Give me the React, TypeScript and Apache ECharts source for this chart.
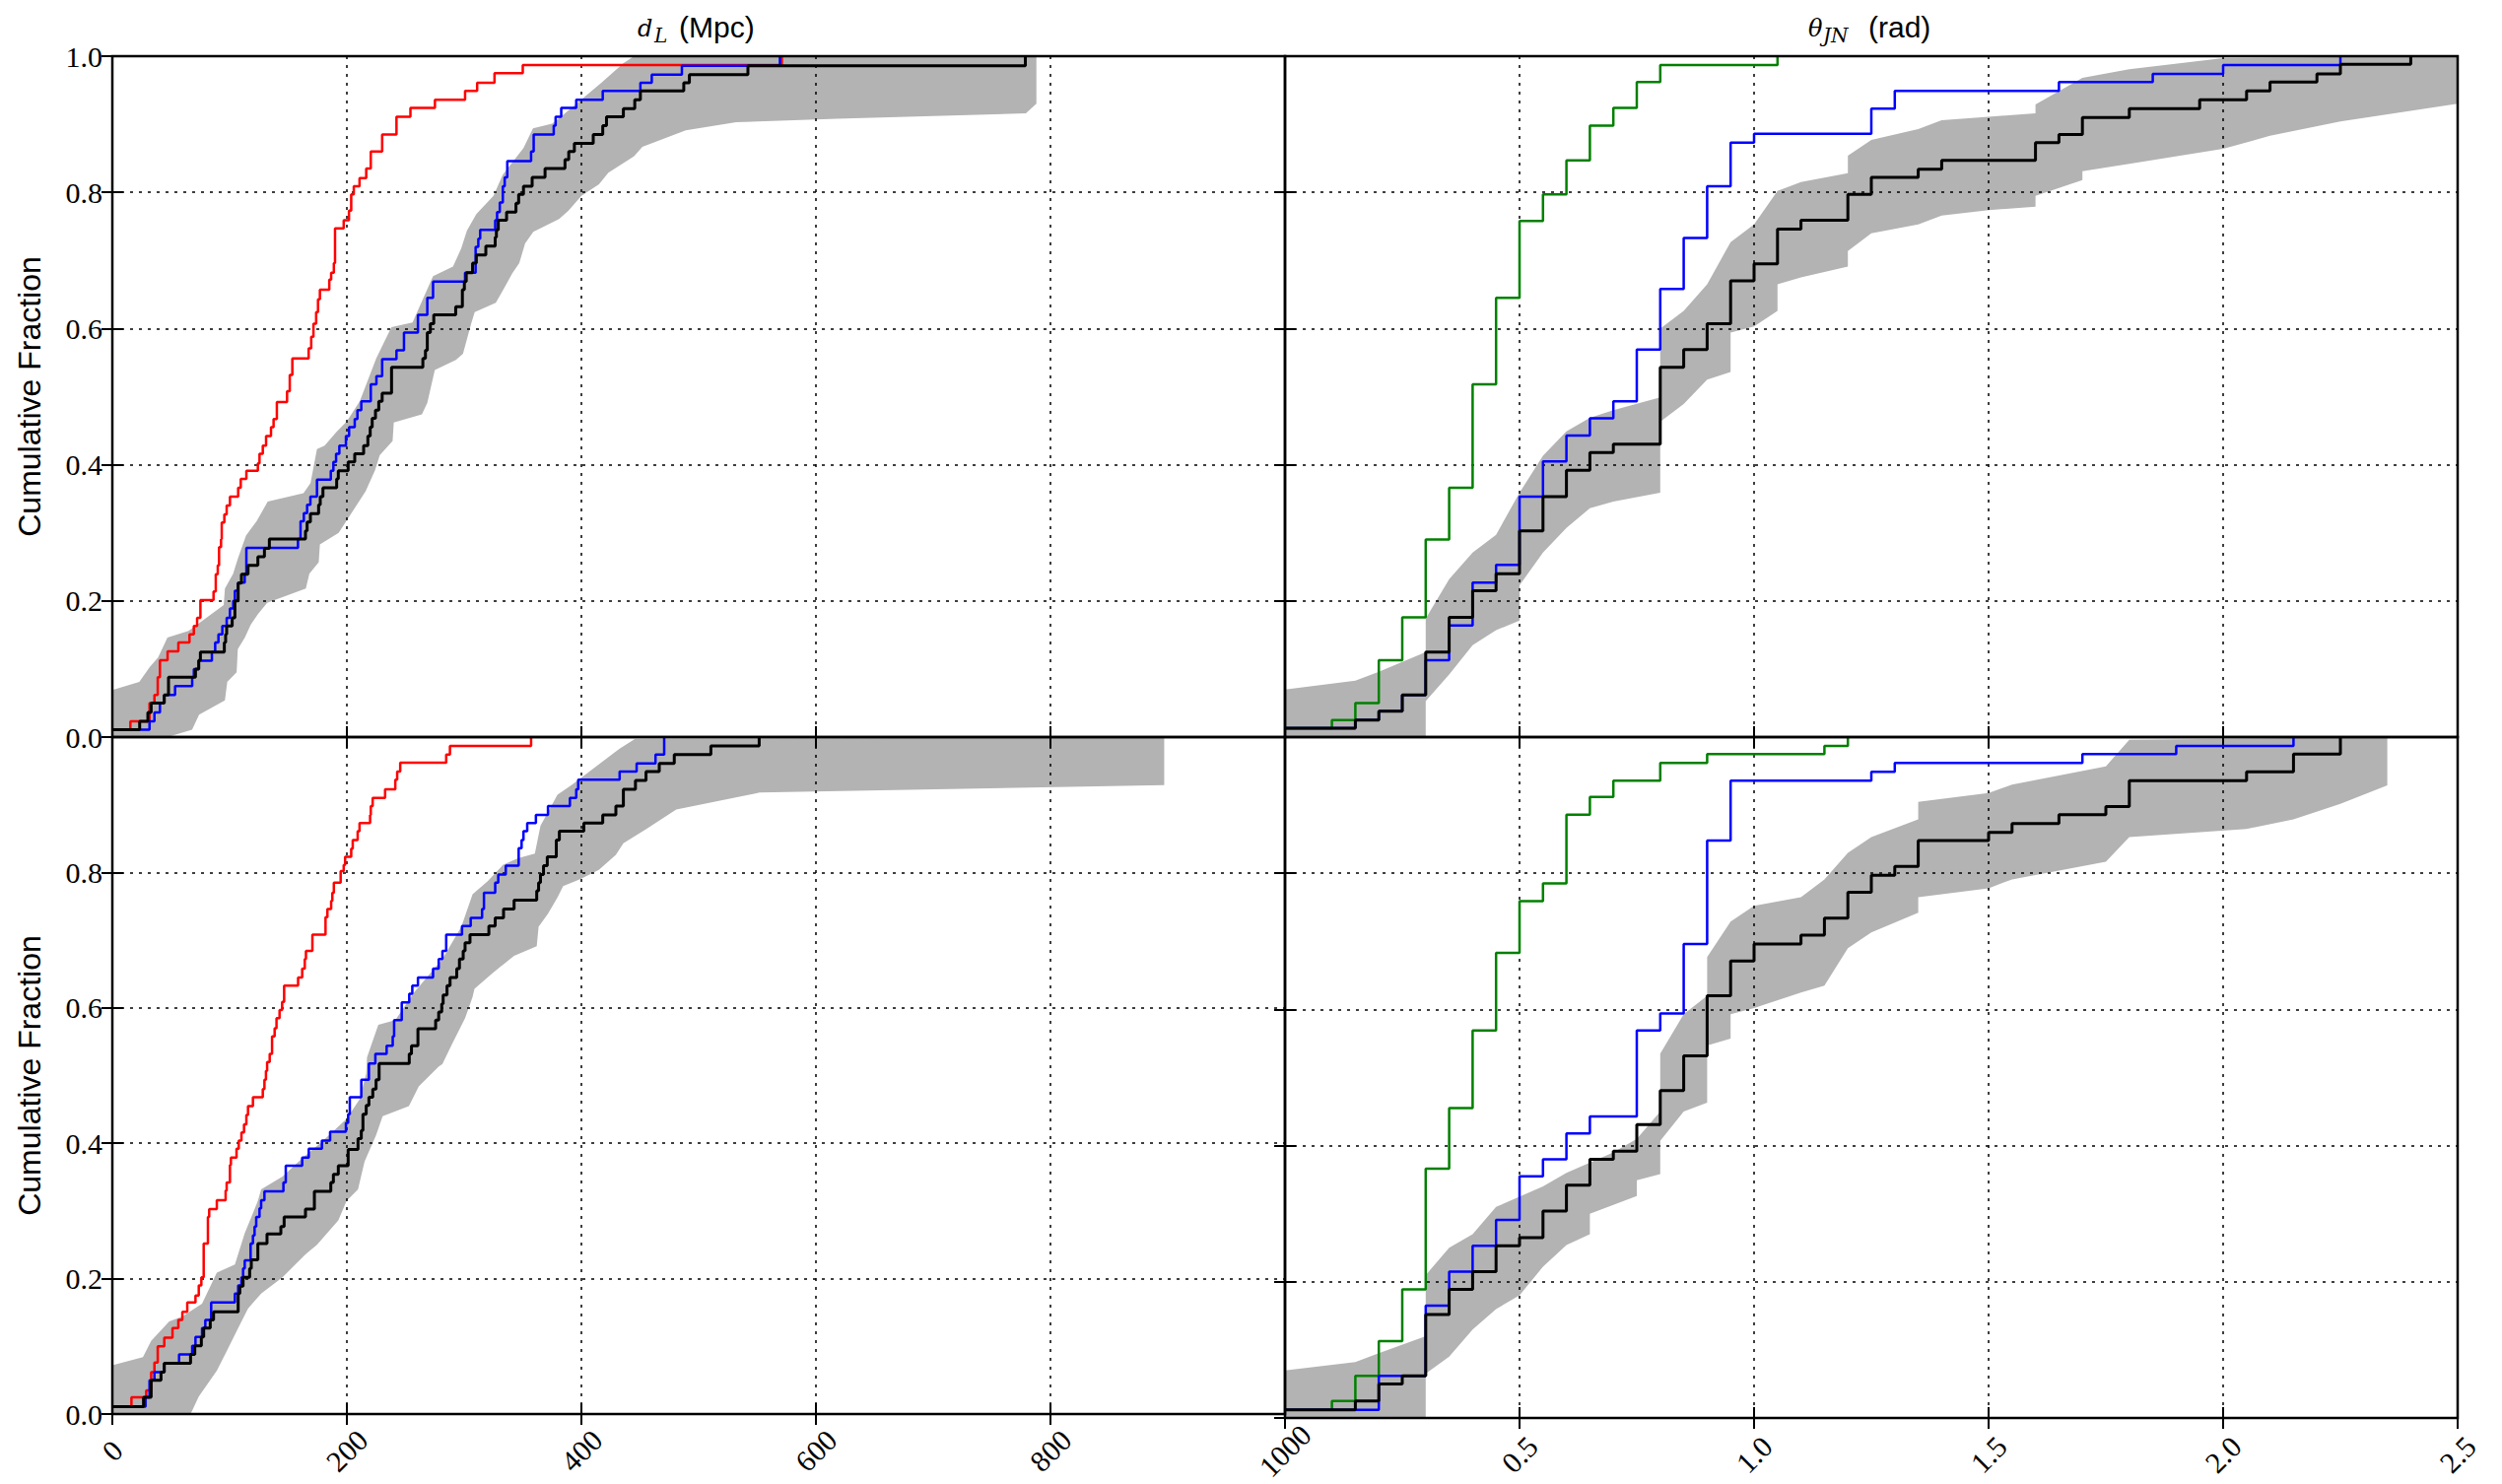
import React, { useEffect, useRef } from 'react';
import * as echarts from 'echarts';

type P = [number, number];

// ---------- Top-left: d_L (Mpc) ----------
const tlRed: P[] = [[0,0.011],[15.4,0.023],[31.7,0.05],[35.9,0.062],[38.7,0.088],[40.6,0.113],[47.1,0.126],[56.3,0.139],[65.8,0.151],[69.5,0.163],[72.3,0.175],[75.1,0.201],[86.3,0.214],[88.2,0.239],[89.9,0.252],[91.0,0.279],[92.7,0.291],[93.3,0.315],[95.5,0.327],[97.5,0.34],[100.3,0.353],[107.3,0.366],[109.5,0.379],[114.3,0.391],[124.1,0.402],[125.5,0.416],[128.3,0.428],[131.1,0.442],[135.3,0.455],[137.5,0.467],[140.3,0.492],[149.0,0.508],[151.3,0.532],[153.5,0.556],[167.4,0.571],[169.6,0.588],[171.5,0.607],[173.8,0.624],[175.4,0.643],[177.0,0.657],[185.0,0.672],[186.6,0.682],[188.9,0.696],[189.9,0.747],[197.3,0.759],[201.8,0.773],[203.7,0.797],[205.9,0.809],[210.8,0.821],[216.5,0.835],[220.4,0.86],[230.1,0.885],[242.3,0.911],[254.2,0.924],[275.1,0.936],[300.8,0.949],[311.1,0.961],[325.9,0.975],[350.0,0.987],[570.9,1.0]];
const tlBlue: P[] = [[0,0.011],[31.7,0.023],[35.9,0.036],[40.6,0.05],[44.3,0.062],[53.5,0.075],[68.1,0.088],[69.5,0.1],[73.7,0.112],[84.9,0.125],[87.7,0.139],[90.5,0.151],[93.8,0.163],[97.5,0.175],[100.3,0.189],[103.1,0.2],[104.5,0.215],[107.3,0.227],[112.9,0.24],[114.3,0.278],[158.3,0.291],[160.5,0.317],[163.3,0.329],[166.1,0.341],[168.9,0.353],[174.5,0.378],[186.3,0.391],[188.5,0.404],[190.8,0.416],[193.6,0.428],[199.2,0.442],[201.9,0.455],[206.7,0.467],[209.0,0.48],[212.3,0.493],[220.4,0.518],[225.2,0.53],[230.1,0.555],[242.3,0.568],[248.7,0.594],[260.6,0.62],[268.6,0.645],[273.5,0.669],[300.8,0.682],[309.8,0.72],[312.1,0.732],[313.7,0.745],[326.5,0.759],[328.1,0.771],[330.4,0.785],[333.0,0.809],[334.6,0.822],[336.8,0.846],[357.1,0.86],[359.3,0.885],[376.4,0.898],[378.0,0.911],[382.8,0.924],[395.6,0.936],[418.2,0.949],[450.3,0.961],[460.0,0.973],[485.7,0.986],[569.3,1.0]];
const tlBlack: P[] = [[0,0.011],[23.3,0.023],[30.3,0.036],[33.1,0.05],[44.3,0.062],[47.9,0.088],[70.9,0.1],[73.7,0.113],[75.1,0.125],[95.5,0.139],[96.6,0.151],[97.5,0.163],[102.2,0.175],[104.5,0.2],[107.3,0.226],[110.1,0.239],[115.7,0.252],[124.1,0.265],[129.7,0.277],[133.9,0.291],[164.7,0.303],[166.1,0.316],[168.9,0.328],[175.9,0.341],[177.3,0.353],[179.6,0.366],[191.3,0.379],[192.7,0.391],[201.1,0.404],[206.7,0.416],[214.3,0.428],[217.9,0.442],[219.9,0.455],[221.6,0.468],[224.4,0.48],[227.2,0.493],[230.1,0.505],[238.1,0.543],[264.8,0.556],[267.0,0.568],[268.6,0.594],[271.2,0.607],[274.1,0.62],[292.8,0.632],[298.5,0.657],[300.2,0.669],[301.8,0.682],[307.2,0.696],[310.4,0.708],[318.5,0.721],[326.5,0.734],[327.5,0.745],[329.1,0.759],[336.2,0.771],[344.2,0.784],[346.5,0.797],[350.6,0.809],[358.0,0.822],[369.0,0.835],[386.0,0.848],[389.2,0.86],[394.0,0.872],[410.1,0.885],[418.2,0.898],[421.4,0.911],[435.8,0.923],[445.5,0.936],[450.3,0.949],[487.3,0.961],[492.1,0.973],[542.0,0.986],[778.6,1.0]];
const tlBandUpper: P[] = [[0,0.069],[23,0.081],[32,0.103],[39,0.117],[47,0.146],[65,0.156],[95,0.194],[96,0.218],[103,0.24],[107,0.262],[114,0.296],[123,0.317],[132.5,0.346],[163,0.358],[169,0.373],[174.5,0.423],[181,0.428],[191,0.448],[200,0.464],[211,0.493],[225,0.556],[238,0.602],[256,0.609],[273.5,0.677],[290.5,0.691],[297.6,0.718],[302.4,0.744],[310.4,0.768],[325,0.795],[333,0.826],[350.6,0.865],[358.7,0.894],[375,0.901],[384,0.913],[417,0.961],[436,0.99],[445,1.0],[788,1.0]];
const tlBandLower: P[] = [[0,0],[47,0],[68,0.011],[74,0.033],[96,0.054],[98,0.081],[106,0.095],[107,0.129],[113,0.146],[118,0.165],[124,0.18],[132,0.197],[165,0.218],[168,0.24],[176,0.257],[177,0.283],[193,0.3],[216,0.361],[224,0.392],[228,0.414],[239,0.435],[240,0.462],[264,0.474],[268.6,0.491],[275,0.539],[293,0.554],[299,0.563],[306,0.607],[309,0.624],[327,0.638],[335,0.662],[341,0.681],[347,0.696],[352,0.725],[359,0.742],[381,0.761],[389,0.773],[400,0.795],[415,0.812],[423,0.829],[445,0.853],[452,0.867],[489,0.891],[532,0.903],[618,0.908],[779,0.916],[788,0.93]];

// ---------- Top-right: theta_JN (rad) ----------
const trGreen: P[] = [[0,0.013],[0.1,0.025],[0.15,0.05],[0.2,0.113],[0.25,0.176],[0.3,0.29],[0.35,0.366],[0.4,0.518],[0.45,0.645],[0.5,0.758],[0.55,0.797],[0.6,0.847],[0.65,0.898],[0.7,0.924],[0.75,0.962],[0.8,0.987],[1.05,1.0]];
const trBlue: P[] = [[0,0.013],[0.15,0.025],[0.2,0.038],[0.25,0.062],[0.3,0.113],[0.35,0.164],[0.4,0.227],[0.45,0.253],[0.5,0.353],[0.55,0.405],[0.6,0.443],[0.65,0.468],[0.7,0.493],[0.75,0.569],[0.8,0.658],[0.85,0.733],[0.9,0.809],[0.95,0.873],[1.0,0.886],[1.25,0.923],[1.3,0.949],[1.65,0.962],[1.85,0.974],[2.0,0.987],[2.25,1.0]];
const trBlack: P[] = [[0,0.013],[0.15,0.025],[0.2,0.038],[0.25,0.062],[0.3,0.125],[0.35,0.176],[0.4,0.215],[0.45,0.24],[0.5,0.303],[0.55,0.353],[0.6,0.392],[0.65,0.418],[0.7,0.43],[0.8,0.543],[0.85,0.569],[0.9,0.607],[0.95,0.67],[1.0,0.695],[1.05,0.746],[1.1,0.759],[1.2,0.797],[1.25,0.822],[1.35,0.834],[1.4,0.847],[1.6,0.873],[1.65,0.885],[1.7,0.91],[1.8,0.923],[1.95,0.936],[2.05,0.949],[2.1,0.962],[2.2,0.974],[2.25,0.988],[2.4,1.0]];
const trBandUpper: P[] = [[0,0.07],[0.15,0.083],[0.2,0.096],[0.3,0.125],[0.3,0.174],[0.35,0.232],[0.4,0.271],[0.45,0.297],[0.5,0.359],[0.55,0.413],[0.6,0.449],[0.65,0.469],[0.7,0.48],[0.8,0.499],[0.8,0.6],[0.85,0.626],[0.9,0.665],[0.95,0.727],[1.0,0.753],[1.05,0.802],[1.1,0.815],[1.2,0.828],[1.2,0.854],[1.25,0.877],[1.35,0.893],[1.4,0.906],[1.5,0.911],[1.6,0.916],[1.6,0.929],[1.7,0.968],[1.8,0.981],[2.0,0.997],[2.5,1.0]];
const trBandLower: P[] = [[0,0],[0.3,0],[0.3,0.053],[0.35,0.092],[0.4,0.135],[0.45,0.157],[0.5,0.171],[0.5,0.223],[0.55,0.271],[0.6,0.307],[0.65,0.336],[0.7,0.346],[0.8,0.359],[0.8,0.463],[0.85,0.489],[0.9,0.525],[0.95,0.536],[0.95,0.594],[1.0,0.603],[1.05,0.626],[1.05,0.665],[1.1,0.675],[1.2,0.691],[1.2,0.714],[1.25,0.74],[1.35,0.753],[1.4,0.766],[1.5,0.774],[1.6,0.779],[1.6,0.795],[1.7,0.818],[1.7,0.831],[1.8,0.842],[2.0,0.864],[2.1,0.883],[2.25,0.904],[2.5,0.93]];

// ---------- Bottom-left: d_L (Mpc) ----------
const blRed: P[] = [[0,0.011],[16.3,0.025],[28.9,0.035],[33.1,0.062],[35.9,0.076],[38.7,0.1],[44.3,0.113],[51.3,0.127],[56.3,0.139],[59.7,0.151],[63.9,0.165],[70.9,0.175],[73.7,0.19],[75.9,0.202],[77.9,0.252],[81.5,0.291],[82.6,0.303],[89.1,0.316],[96.6,0.33],[97.5,0.342],[100.3,0.368],[101.1,0.379],[105.9,0.392],[107.8,0.404],[110.1,0.416],[112.3,0.428],[114.3,0.442],[115.7,0.455],[119.9,0.468],[128.3,0.48],[129.7,0.494],[131,0.507],[132,0.52],[134.2,0.532],[136.2,0.558],[138.4,0.57],[140,0.585],[142.6,0.597],[144.8,0.609],[146.5,0.633],[158.4,0.645],[161.9,0.658],[164.1,0.672],[165.1,0.684],[170.6,0.708],[181.8,0.734],[183.4,0.746],[186.6,0.758],[187.6,0.77],[188.9,0.785],[194.7,0.802],[197.3,0.811],[198.5,0.823],[203.7,0.835],[205,0.848],[209.2,0.861],[210.8,0.873],[219.8,0.885],[220.4,0.898],[222,0.91],[232.6,0.923],[241.3,0.937],[242.9,0.949],[245.5,0.962],[284.7,0.974],[287.9,0.987],[357.1,1.0]];
const blBlue: P[] = [[0,0.011],[28.3,0.025],[31.7,0.05],[35.9,0.062],[44.3,0.075],[56.9,0.088],[68.1,0.101],[70.9,0.114],[76.5,0.127],[79.3,0.139],[84.3,0.165],[104.5,0.178],[107.3,0.19],[110.1,0.202],[111.5,0.215],[112.9,0.227],[117.9,0.252],[119.9,0.264],[121.3,0.277],[122.7,0.291],[125.5,0.304],[126.9,0.316],[129.7,0.329],[145.9,0.342],[147.9,0.367],[161.9,0.379],[167.5,0.392],[178.7,0.404],[185.7,0.417],[199.2,0.43],[201.1,0.443],[202.5,0.468],[212.3,0.494],[218.8,0.518],[224.3,0.532],[233.9,0.544],[239.1,0.558],[240.3,0.582],[246.8,0.608],[253.2,0.621],[255.8,0.633],[260.6,0.645],[273.5,0.658],[278.3,0.672],[281.5,0.684],[284.7,0.708],[298.2,0.721],[305.6,0.733],[315.3,0.746],[316.9,0.77],[326.5,0.785],[329.1,0.797],[335.5,0.81],[346.5,0.836],[349,0.848],[350.6,0.861],[353.8,0.873],[361.2,0.885],[371.5,0.898],[390.2,0.91],[395.6,0.923],[397.3,0.937],[432.6,0.949],[447.1,0.961],[463.2,0.974],[470.6,1.0]];
const blBlack: P[] = [[0,0.011],[26.6,0.025],[33.1,0.05],[41.5,0.062],[44.3,0.075],[66.7,0.088],[70.3,0.101],[75.9,0.114],[77.9,0.127],[83.5,0.139],[86.3,0.151],[107.3,0.178],[108.7,0.189],[111.5,0.202],[117.1,0.215],[118.5,0.228],[124.1,0.252],[131.9,0.266],[143.7,0.277],[146.5,0.291],[164.7,0.303],[172.3,0.329],[186.3,0.342],[188.5,0.354],[192.7,0.367],[201.1,0.391],[209.5,0.407],[212.3,0.419],[213.7,0.443],[216.5,0.456],[218.8,0.468],[222.1,0.48],[224.9,0.494],[227.5,0.518],[253.2,0.532],[255.1,0.544],[260.6,0.569],[275.7,0.582],[278.3,0.594],[280.9,0.606],[282.1,0.619],[285.4,0.633],[288,0.645],[293.7,0.658],[296,0.672],[299.2,0.684],[300.8,0.696],[305,0.708],[321.1,0.721],[326.5,0.733],[333.6,0.746],[342.6,0.759],[361.9,0.773],[363.5,0.785],[365.1,0.797],[367.7,0.81],[370.9,0.823],[378.6,0.848],[381.2,0.861],[402.1,0.873],[418.2,0.885],[429.4,0.898],[435.8,0.923],[446.1,0.936],[455.1,0.949],[466.4,0.961],[479.2,0.974],[510.4,0.987],[551.6,1.0]];
const blBandUpper: P[] = [[0,0.072],[26.1,0.084],[33.1,0.108],[48.5,0.137],[59.7,0.144],[76.5,0.163],[89.1,0.209],[104.5,0.221],[112.9,0.267],[124.1,0.315],[126.9,0.332],[145.1,0.351],[163.3,0.38],[178.7,0.402],[199.7,0.436],[210.9,0.465],[216.5,0.503],[217.2,0.527],[226.8,0.575],[241.3,0.582],[257.4,0.623],[281.5,0.672],[297.6,0.72],[307.2,0.768],[320.1,0.787],[333,0.811],[345.8,0.821],[360.3,0.828],[365.1,0.869],[379.6,0.915],[392.4,0.93],[432.6,0.983],[445.5,0.997],[897,1.0]];
const blBandLower: P[] = [[0,0],[66.7,0],[73.7,0.026],[89.1,0.064],[97.5,0.093],[107.3,0.127],[115.7,0.156],[126.9,0.178],[145.1,0.202],[164.7,0.236],[174.5,0.25],[192.7,0.286],[199.7,0.315],[209.5,0.332],[215.1,0.373],[224.9,0.412],[230.5,0.44],[252.9,0.455],[261.3,0.484],[278.2,0.513],[281.5,0.517],[289.5,0.546],[300.8,0.585],[307.2,0.616],[308.8,0.628],[323.3,0.65],[342.6,0.677],[361.9,0.691],[363.5,0.72],[371.5,0.739],[379.6,0.763],[384.4,0.78],[398.9,0.79],[414.9,0.804],[429.4,0.826],[435.8,0.843],[455.1,0.864],[480.9,0.893],[552,0.918],[897,0.929]];

// ---------- Bottom-right: theta_JN (rad) ----------
const brGreen: P[] = [[0,0.012],[0.1,0.025],[0.15,0.062],[0.2,0.113],[0.25,0.189],[0.3,0.366],[0.35,0.455],[0.4,0.569],[0.45,0.683],[0.5,0.759],[0.55,0.785],[0.6,0.886],[0.65,0.912],[0.7,0.936],[0.8,0.962],[0.9,0.975],[1.15,0.987],[1.2,1.0]];
const brBlue: P[] = [[0,0.012],[0.2,0.062],[0.3,0.165],[0.35,0.215],[0.4,0.253],[0.45,0.291],[0.5,0.355],[0.55,0.38],[0.6,0.418],[0.65,0.443],[0.75,0.569],[0.8,0.594],[0.85,0.696],[0.9,0.848],[0.95,0.936],[1.25,0.949],[1.3,0.962],[1.7,0.975],[1.9,0.987],[2.15,1.0]];
const brBlack: P[] = [[0,0.012],[0.15,0.025],[0.2,0.05],[0.25,0.062],[0.3,0.152],[0.35,0.189],[0.4,0.215],[0.45,0.253],[0.5,0.265],[0.55,0.304],[0.6,0.342],[0.65,0.38],[0.7,0.392],[0.75,0.431],[0.8,0.481],[0.85,0.532],[0.9,0.62],[0.95,0.671],[1.0,0.696],[1.1,0.709],[1.15,0.734],[1.2,0.772],[1.25,0.797],[1.3,0.81],[1.35,0.848],[1.5,0.86],[1.55,0.873],[1.65,0.886],[1.75,0.898],[1.8,0.936],[2.05,0.949],[2.15,0.975],[2.25,1.0]];
const brBandUpper: P[] = [[0,0.07],[0.15,0.082],[0.2,0.095],[0.3,0.12],[0.3,0.21],[0.35,0.25],[0.4,0.27],[0.45,0.31],[0.55,0.34],[0.6,0.36],[0.7,0.39],[0.75,0.41],[0.8,0.45],[0.8,0.535],[0.85,0.593],[0.9,0.62],[0.9,0.677],[0.95,0.729],[1.0,0.752],[1.1,0.765],[1.15,0.791],[1.2,0.83],[1.25,0.853],[1.35,0.879],[1.35,0.905],[1.5,0.918],[1.55,0.93],[1.75,0.957],[1.8,0.996],[2.35,1.0]];
const brBandLower: P[] = [[0,0],[0.3,0],[0.3,0.065],[0.35,0.09],[0.4,0.13],[0.45,0.16],[0.5,0.18],[0.55,0.222],[0.6,0.254],[0.65,0.27],[0.65,0.3],[0.75,0.326],[0.75,0.349],[0.8,0.358],[0.8,0.407],[0.85,0.45],[0.9,0.463],[0.9,0.547],[0.95,0.557],[0.95,0.593],[1.0,0.602],[1.1,0.625],[1.15,0.635],[1.2,0.69],[1.25,0.713],[1.35,0.742],[1.35,0.765],[1.5,0.778],[1.55,0.791],[1.75,0.817],[1.8,0.853],[2.05,0.865],[2.15,0.879],[2.25,0.902],[2.35,0.929]];

// ---------- Axes / labels ----------
const leftXTicks = { min: 0, max: 1000, interval: 200 };
const rightXTicks = { min: 0, max: 2.5, interval: 0.5 };
const yTicks = { min: 0, max: 1, interval: 0.2 };
const yAxisTitle = 'Cumulative Fraction';
const leftTitleParts = ['d', 'L', '(Mpc)'];
const rightTitleParts = ['θ', 'JN', '(rad)'];

const W = 2539, H = 1506;
const GRID_POS = [
  { left: 114, top: 57 },
  { left: 1304, top: 57 },
  { left: 114, top: 748 },
  { left: 1304, top: 748 },
];
const GW = 1190, GH = 691;
const SERIF = 'Liberation Serif';
const MATH = 'DejaVu Serif';
const SANS = 'Liberation Sans';

const panels = [
  { colored: tlRed, coloredColor: '#ff0000', blue: tlBlue, black: tlBlack, up: tlBandUpper, lo: tlBandLower },
  { colored: trGreen, coloredColor: '#008000', blue: trBlue, black: trBlack, up: trBandUpper, lo: trBandLower },
  { colored: blRed, coloredColor: '#ff0000', blue: blBlue, black: blBlack, up: blBandUpper, lo: blBandLower },
  { colored: brGreen, coloredColor: '#008000', blue: brBlue, black: brBlack, up: brBandUpper, lo: brBandLower },
];

function titleTexts(parts: string[], xMain: number, xSub: number, xRest: number) {
  return [
    { type: 'text', x: xMain, y: 29, style: { text: parts[0], fontFamily: MATH, fontStyle: 'italic', fontSize: 24, fill: '#000', align: 'left', verticalAlign: 'middle' } },
    { type: 'text', x: xSub, y: 36, style: { text: parts[1], fontFamily: MATH, fontStyle: 'italic', fontSize: 20, fill: '#000', align: 'left', verticalAlign: 'middle' } },
    { type: 'text', x: xRest, y: 27, style: { text: parts[2], fontFamily: SANS, fontSize: 30, fill: '#000', align: 'left', verticalAlign: 'middle' } },
  ];
}

export default function App() {
  const ref = useRef<HTMLDivElement>(null);
  useEffect(() => {
    if (!ref.current) return;
    const chart = echarts.init(ref.current, null, { renderer: 'svg' });

    const grid = GRID_POS.map((g) => ({
      left: g.left, top: g.top, width: GW, height: GH,
      show: true, borderColor: '#000', borderWidth: 2.5, backgroundColor: 'transparent', z: 10,
    }));

    const tickStyle = { show: true, inside: true, length: 11, lineStyle: { color: '#000', width: 2 } };
    const splitStyle = { show: true, lineStyle: { color: '#000', width: 1.5, type: [3, 6] as any } };

    const xAxis: any[] = [];
    const yAxis: any[] = [];
    for (let i = 0; i < 4; i++) {
      const isLeft = i % 2 === 0;
      const isBottom = i >= 2;
      const t = isLeft ? leftXTicks : rightXTicks;
      xAxis.push({
        type: 'value', gridIndex: i, position: 'bottom', min: t.min, max: t.max, interval: t.interval,
        axisLine: { show: false }, axisTick: tickStyle, splitLine: splitStyle, z: 3,
        axisLabel: {
          show: isBottom, rotate: 45, align: 'center', verticalAlign: 'middle', margin: 37,
          fontFamily: SERIF, fontSize: 30, color: '#000', showMinLabel: isLeft, showMaxLabel: true,
          formatter: (v: number) => (isLeft ? String(Math.round(v)) : v.toFixed(1)),
        },
      });
      yAxis.push({
        type: 'value', gridIndex: i, position: 'left', min: yTicks.min, max: yTicks.max, interval: yTicks.interval,
        axisLine: { show: false }, axisTick: tickStyle, splitLine: splitStyle, z: 3,
        axisLabel: {
          show: isLeft, margin: 10, fontFamily: SERIF, fontSize: 30, color: '#000',
          showMaxLabel: !isBottom, formatter: (v: number) => v.toFixed(1),
        },
        name: isLeft ? yAxisTitle : '',
        nameLocation: 'middle', nameRotate: 90, nameGap: 68,
        nameTextStyle: { fontFamily: SANS, fontSize: 32, color: '#000' },
      });
    }
    for (let i = 0; i < 4; i++) {
      const isLeft = i % 2 === 0;
      const t = isLeft ? leftXTicks : rightXTicks;
      xAxis.push({
        type: 'value', gridIndex: i, position: 'top', min: t.min, max: t.max, interval: t.interval,
        axisLine: { show: false }, axisTick: tickStyle, splitLine: { show: false }, axisLabel: { show: false }, z: 3,
      });
      yAxis.push({
        type: 'value', gridIndex: i, position: 'right', min: yTicks.min, max: yTicks.max, interval: yTicks.interval,
        axisLine: { show: false }, axisTick: tickStyle, splitLine: { show: false }, axisLabel: { show: false }, z: 3,
      });
    }

    const series: any[] = [];
    panels.forEach((p, i) => {
      series.push({
        type: 'custom', xAxisIndex: i, yAxisIndex: i, clip: true, silent: true, z: 1,
        data: [[0, 0]],
        renderItem: (_params: any, api: any) => {
          const pts = p.up.map((q) => api.coord(q)).concat(p.lo.slice().reverse().map((q) => api.coord(q)));
          return { type: 'polygon', shape: { points: pts }, style: { fill: '#b3b3b3', stroke: 'none' } };
        },
      });
      const line = (data: P[], color: string, width: number, z: number) => ({
        type: 'line', xAxisIndex: i, yAxisIndex: i, data, step: 'end', symbol: 'none', showSymbol: false,
        lineStyle: { color, width }, itemStyle: { color }, z, clip: true, silent: true,
      });
      series.push(line(p.colored, p.coloredColor, 2.5, 5));
      series.push(line(p.blue, '#0000ff', 2.5, 6));
      series.push(line(p.black, '#000000', 3, 7));
    });

    chart.setOption({
      animation: false,
      backgroundColor: '#fff',
      grid, xAxis, yAxis, series,
      graphic: [
        ...titleTexts(leftTitleParts, 647, 664, 689),
        ...titleTexts(rightTitleParts, 1835, 1850, 1896),
      ],
    });
    return () => chart.dispose();
  }, []);
  return <div ref={ref} style={{ position: 'fixed', left: 0, top: 0, width: W, height: H, background: '#fff' }} />;
}
